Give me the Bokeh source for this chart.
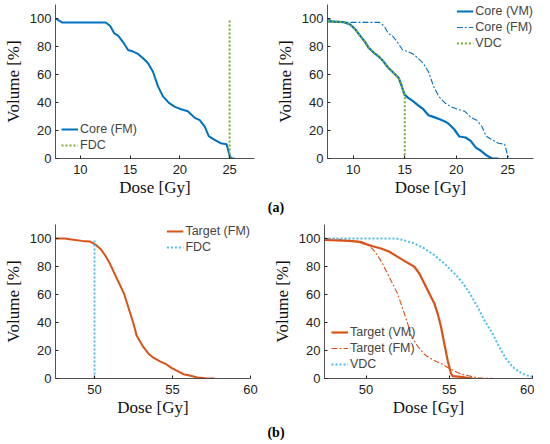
from bokeh.plotting import figure
from bokeh.layouts import column, row
from bokeh.models import Div, Legend, LegendItem
from bokeh.embed import file_html
from bokeh.resources import INLINE

# ---------------- data ----------------
# Core (FM) DVH
core_fm_x = [7.5, 8.15, 12.54, 13.0, 13.4, 13.8, 14.3, 14.8, 15.3, 15.8, 16.3, 16.8, 17.3,
             17.8, 18.3, 18.9, 19.5, 20.2, 20.8, 21.5, 22.0, 22.5, 22.9, 23.4, 24.1, 24.7,
             25.0, 25.2, 25.5]
core_fm_y = [100, 97.2, 97.2, 94.6, 89.4, 87.7, 83, 77.5, 76.4, 74.7, 71.6, 68, 62,
             51.5, 44.4, 39.7, 36.9, 35, 33.8, 29, 27.4, 22.7, 16, 13.7, 10.9, 10.2,
             1.9, 0, 0]
# Core (VM) DVH
core_vm_x = [7.5, 9.1, 9.7, 10.2, 10.7, 11.2, 11.5, 12.0, 12.5, 12.9, 13.4, 13.9, 14.4,
             14.7, 14.96, 15.3, 15.8, 16.3, 16.8, 17.3, 17.7, 18.4, 19.0, 19.3, 19.8,
             20.3, 20.9, 21.4, 21.9, 22.4, 23.0, 23.5, 24.1]
core_vm_y = [98, 97.4, 95.7, 92.2, 87.4, 82.7, 79, 75.5, 72.7, 69.6, 64.8, 61.3, 57.7,
             51.8, 45.8, 43.5, 41, 38, 35.2, 30.9, 29.9, 28, 26.1, 24.5, 20.9,
             15.7, 15, 12.6, 7.8, 5.5, 1.9, 0, 0]
# VDC (core)
vdc_core_x = [7.5, 9.1, 9.7, 10.2, 10.7, 11.2, 11.5, 12.0, 12.5, 12.9, 13.4, 13.9, 14.4,
              14.7, 15.0, 15.0]
vdc_core_y = [98, 97.4, 95.7, 92.2, 87.4, 82.7, 79, 75.5, 72.7, 69.6, 64.8, 61.3, 57.7,
              51.8, 45.0, 0]
# FDC (core)
fdc_core_x = [25, 25]
fdc_core_y = [0, 100]

# Target (FM) DVH
tgt_fm_x = [47.5, 48.1, 48.4, 49.2, 49.7, 49.9, 50.1, 50.4, 50.7, 51.0, 51.3, 51.6, 51.9,
            52.2, 52.5, 52.7, 53.1, 53.5, 53.8, 54.2, 54.6, 54.9, 55.3, 55.7, 56.1,
            56.6, 57.1, 57.7]
tgt_fm_y = [100, 100, 99.5, 98.3, 97.9, 96.7, 95.3, 92.4, 87.7, 81.8, 74.6, 67.5, 60.4,
            49.8, 39.1, 30.8, 23, 17.3, 14.7, 12.3, 10.2, 7.8, 5.5, 3.1, 2.1,
            0.7, 0.2, 0]
# Target (VM) DVH
tgt_vm_x = [47.5, 49.0, 49.6, 50.0, 50.4, 50.9, 51.4, 51.9, 52.4, 52.9, 53.2, 53.5, 53.8,
            54.1, 54.3, 54.5, 54.7, 54.9, 55.1, 55.2, 55.7, 56.4]
tgt_vm_y = [99, 98.3, 97.6, 96, 94.5, 92.9, 90.5, 86.9, 83.3, 79.8, 75, 67.9, 60.7,
            53.6, 46.4, 36.9, 25, 13.1, 3.6, 1.7, 1.2, 0]
# VDC (target)
vdc_tgt_x = [47.5, 51.8, 52.2, 52.9, 53.5, 54.1, 54.7, 55.1, 55.5, 55.9, 56.3, 56.7, 57.1,
             57.6, 58.0, 58.4, 58.8, 59.2, 59.6, 60.0]
vdc_tgt_y = [100, 100, 99, 96.4, 92.9, 88.1, 82.1, 77.4, 72.6, 66.7, 59.5, 51.2, 41.7,
             32.1, 22.6, 14.3, 8.3, 4.8, 2.4, 1.2]
# FDC (target)
fdc_tgt_x = [50, 50]
fdc_tgt_y = [0, 100]

core_ticks = [10, 15, 20, 25]
target_ticks = [50, 55, 60]
vol_ticks = [0, 20, 40, 60, 80, 100]

BLUE = "#0072BD"
ORANGE = "#D95319"
GREEN = "#77AC30"
CYAN = "#4DBEEE"
AX = "#262626"


def make_fig(w, h, xr, ticks, bl, br, bt, bb):
    p = figure(width=w, height=h, x_range=xr, y_range=(0, 110),
               output_backend="svg", toolbar_location=None,
               min_border_left=bl, min_border_right=br, min_border_top=bt,
               min_border_bottom=bb, tools="")
    p.outline_line_color = None
    p.grid.visible = False
    p.xaxis.ticker = ticks
    p.yaxis.ticker = vol_ticks
    for ax in (p.xaxis, p.yaxis):
        ax.axis_line_color = AX
        ax.axis_line_width = 0.8
        ax.major_tick_line_color = AX
        ax.major_tick_in = 3
        ax.major_tick_out = 0
        ax.minor_tick_line_color = None
        ax.major_label_text_font = "Liberation Sans"
        ax.major_label_text_font_size = "13px"
        ax.major_label_text_color = "#222222"
        ax.axis_label_text_font = "Liberation Serif"
        ax.axis_label_text_font_style = "normal"
        ax.axis_label_text_font_size = "17px"
        ax.axis_label_text_color = "#111111"
    p.xaxis.axis_label = "Dose [Gy]"
    p.yaxis.axis_label = "Volume [%]"
    p.xaxis.major_label_standoff = 6
    p.xaxis.axis_label_standoff = 1
    p.yaxis.major_label_standoff = 4
    p.yaxis.axis_label_standoff = 4
    return p


def add_legend(p, items, loc, margin, padding=2):
    lg = Legend(items=items, location=loc)
    lg.border_line_color = None
    lg.background_fill_alpha = 0
    lg.label_text_font = "Liberation Sans"
    lg.label_text_font_size = "12.5px"
    lg.label_height = 12
    lg.glyph_height = 12
    lg.glyph_width = 17
    lg.spacing = 2
    lg.padding = padding
    lg.margin = margin
    lg.label_standoff = 2
    p.add_layout(lg)


# Panel 1
p1 = make_fig(267, 207, (7.5, 27.5), core_ticks, 47, 13, 4, 49)
r1 = p1.line(core_fm_x, core_fm_y, line_color=BLUE, line_width=2)
r2 = p1.line(fdc_core_x, fdc_core_y, line_color=GREEN, line_width=2, line_dash="2 2")
add_legend(p1, [LegendItem(label="Core (FM)", renderers=[r1]),
                LegendItem(label="FDC", renderers=[r2])], "bottom_left", 6)

# Panel 2
p2 = make_fig(267, 207, (7.5, 27.5), core_ticks, 60, 1, 4, 49)
a1 = p2.line(core_vm_x, core_vm_y, line_color=BLUE, line_width=2.2)
a2 = p2.line(core_fm_x, core_fm_y, line_color=BLUE, line_width=1.1, line_dash="6 2 2 2")
a3 = p2.line(vdc_core_x, vdc_core_y, line_color=GREEN, line_width=2, line_dash="2 2")
add_legend(p2, [LegendItem(label="Core (VM)", renderers=[a1]),
                LegendItem(label="Core (FM)", renderers=[a2]),
                LegendItem(label="VDC", renderers=[a3])], "top_right", 0, 5)

# Panel 3
p3 = make_fig(267, 210, (47.5, 60), target_ticks, 44, 17, 7, 49)
b1 = p3.line(tgt_fm_x, tgt_fm_y, line_color=ORANGE, line_width=2)
b2 = p3.line(fdc_tgt_x, fdc_tgt_y, line_color=CYAN, line_width=2, line_dash="2 2")
add_legend(p3, [LegendItem(label="Target (FM)", renderers=[b1]),
                LegendItem(label="FDC", renderers=[b2])], "top_right", 0)

# Panel 4
p4 = make_fig(267, 210, (47.5, 60), target_ticks, 57, 2, 7, 49)
c1 = p4.line(tgt_vm_x, tgt_vm_y, line_color=ORANGE, line_width=2.2)
c2 = p4.line(tgt_fm_x, tgt_fm_y, line_color=ORANGE, line_width=1.1, line_dash="6 2 2 2")
c3 = p4.line(vdc_tgt_x, vdc_tgt_y, line_color=CYAN, line_width=2, line_dash="2 2")
add_legend(p4, [LegendItem(label="Target (VM)", renderers=[c1]),
                LegendItem(label="Target (FM)", renderers=[c2]),
                LegendItem(label="VDC", renderers=[c3])], "bottom_left", 7)

cap_style = {"text-align": "center", "font-weight": "bold", "font-family": "Liberation Serif",
             "font-size": "14px", "color": "#000", "width": "534px", "line-height": "8px",
             "padding-left": "18px", "position": "relative", "top": "-3px"}
cap_a = Div(text="(a)", width=534, height=10, styles=cap_style, margin=(0, 0, 0, 0))
cap_b = Div(text="(b)", width=534, height=14,
            styles=dict(cap_style, **{"line-height": "12px", "top": "0px"}),
            margin=(0, 0, 0, 0))

layout = column(row(p1, p2), cap_a, row(p3, p4), cap_b)
open("out.html", "w").write(file_html(layout, INLINE))
